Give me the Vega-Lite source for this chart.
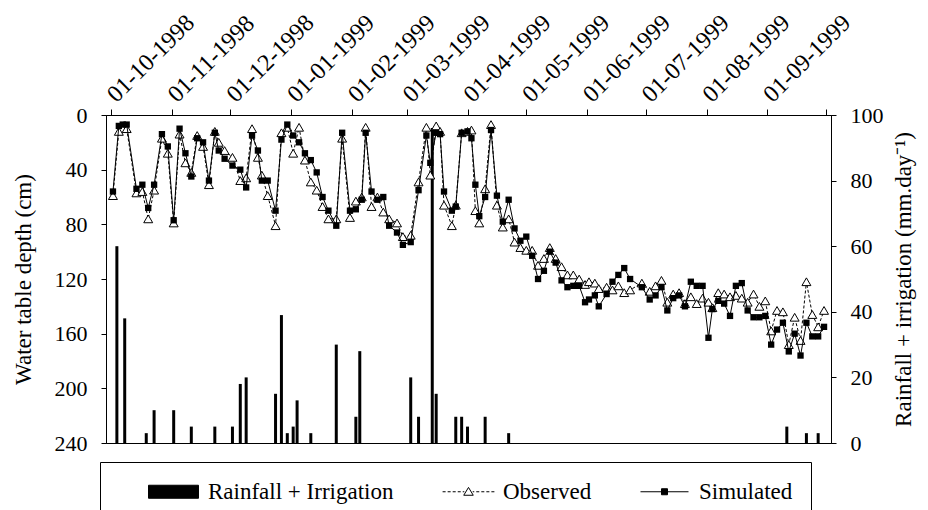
{
  "$schema": "https://vega.github.io/schema/vega-lite/v6.json",
  "width": 725,
  "height": 328,
  "autosize": {"type": "none"},
  "padding": {"left": 106, "top": 115, "right": 97, "bottom": 67},
  "background": "white",
  "config": {
    "view": {"stroke": "black", "strokeWidth": 1},
    "font": "Liberation Serif",
    "axis": {
      "labelFont": "Liberation Serif",
      "titleFont": "Liberation Serif",
      "labelColor": "black",
      "titleColor": "black",
      "domainColor": "black",
      "tickColor": "black",
      "grid": false,
      "titleFontWeight": "normal",
      "labelFontSize": 22,
      "titleFontSize": 23,
      "tickSize": 5,
      "labelPadding": 14
    },
    "legend": {"labelFont": "Liberation Serif", "titleFont": "Liberation Serif"}
  },
  "datasets": {
    "rain": [
      {"date": "1998-10-04", "rain": 60},
      {"date": "1998-10-08", "rain": 38},
      {"date": "1998-10-19", "rain": 3},
      {"date": "1998-10-23", "rain": 10},
      {"date": "1998-11-02", "rain": 10},
      {"date": "1998-11-11", "rain": 5},
      {"date": "1998-11-23", "rain": 5},
      {"date": "1998-12-02", "rain": 5},
      {"date": "1998-12-06", "rain": 18},
      {"date": "1998-12-09", "rain": 20},
      {"date": "1998-12-24", "rain": 15},
      {"date": "1998-12-27", "rain": 39},
      {"date": "1998-12-30", "rain": 3},
      {"date": "1999-01-02", "rain": 5},
      {"date": "1999-01-04", "rain": 13},
      {"date": "1999-01-11", "rain": 3},
      {"date": "1999-01-24", "rain": 30},
      {"date": "1999-02-03", "rain": 8},
      {"date": "1999-02-05", "rain": 28},
      {"date": "1999-03-03", "rain": 20},
      {"date": "1999-03-07", "rain": 8},
      {"date": "1999-03-14", "rain": 96},
      {"date": "1999-03-16", "rain": 15},
      {"date": "1999-03-26", "rain": 8},
      {"date": "1999-03-29", "rain": 8},
      {"date": "1999-04-01", "rain": 5},
      {"date": "1999-04-10", "rain": 8},
      {"date": "1999-04-22", "rain": 3},
      {"date": "1999-09-11", "rain": 5},
      {"date": "1999-09-21", "rain": 3},
      {"date": "1999-09-27", "rain": 3}
    ],
    "wt": [
      {"date": "1998-10-02", "obs": 59, "sim": 56},
      {"date": "1998-10-05", "obs": 12, "sim": 8},
      {"date": "1998-10-07", "obs": null, "sim": 7},
      {"date": "1998-10-09", "obs": 10, "sim": 7},
      {"date": "1998-10-14", "obs": 57, "sim": 54},
      {"date": "1998-10-17", "obs": 56, "sim": 51},
      {"date": "1998-10-20", "obs": 76, "sim": 68},
      {"date": "1998-10-23", "obs": 55, "sim": 51},
      {"date": "1998-10-27", "obs": 17, "sim": 14},
      {"date": "1998-10-30", "obs": 28, "sim": 23},
      {"date": "1998-11-02", "obs": 79, "sim": 77},
      {"date": "1998-11-05", "obs": 14, "sim": 10},
      {"date": "1998-11-08", "obs": 35, "sim": 28},
      {"date": "1998-11-11", "obs": 42, "sim": 45},
      {"date": "1998-11-14", "obs": 15, "sim": 17},
      {"date": "1998-11-17", "obs": 23, "sim": 20},
      {"date": "1998-11-20", "obs": 51, "sim": 48},
      {"date": "1998-11-23", "obs": 12, "sim": 13},
      {"date": "1998-11-25", "obs": 20, "sim": 26},
      {"date": "1998-11-28", "obs": 26, "sim": 32},
      {"date": "1998-12-02", "obs": 31, "sim": 37},
      {"date": "1998-12-06", "obs": 48, "sim": 40},
      {"date": "1998-12-09", "obs": 46, "sim": 53},
      {"date": "1998-12-12", "obs": 10, "sim": 15},
      {"date": "1998-12-15", "obs": 31, "sim": 26},
      {"date": "1998-12-17", "obs": 44, "sim": 48},
      {"date": "1998-12-20", "obs": 59, "sim": 48},
      {"date": "1998-12-24", "obs": 81, "sim": 70},
      {"date": "1998-12-27", "obs": 13, "sim": 18},
      {"date": "1998-12-30", "obs": 9, "sim": 7},
      {"date": "1999-01-02", "obs": 28, "sim": 15},
      {"date": "1999-01-05", "obs": 9, "sim": 20},
      {"date": "1999-01-08", "obs": 33, "sim": 28},
      {"date": "1999-01-11", "obs": 49, "sim": 33},
      {"date": "1999-01-14", "obs": 55, "sim": 42},
      {"date": "1999-01-17", "obs": 67, "sim": 60},
      {"date": "1999-01-20", "obs": 76, "sim": 70},
      {"date": "1999-01-24", "obs": 76, "sim": 81},
      {"date": "1999-01-27", "obs": 17, "sim": 13},
      {"date": "1999-01-31", "obs": 75, "sim": 70},
      {"date": "1999-02-03", "obs": 63, "sim": 69},
      {"date": "1999-02-06", "obs": 60, "sim": 62},
      {"date": "1999-02-08", "obs": 9, "sim": 13},
      {"date": "1999-02-11", "obs": 67, "sim": 56},
      {"date": "1999-02-14", "obs": 60, "sim": 62},
      {"date": "1999-02-17", "obs": 71, "sim": 60},
      {"date": "1999-02-20", "obs": 76, "sim": 81},
      {"date": "1999-02-24", "obs": 79, "sim": 86},
      {"date": "1999-02-27", "obs": 89, "sim": 95},
      {"date": "1999-03-03", "obs": 88, "sim": 93},
      {"date": "1999-03-07", "obs": 49, "sim": 55},
      {"date": "1999-03-11", "obs": 9, "sim": 15},
      {"date": "1999-03-13", "obs": 44, "sim": 35},
      {"date": "1999-03-16", "obs": 8, "sim": 13},
      {"date": "1999-03-18", "obs": 12, "sim": 14},
      {"date": "1999-03-20", "obs": 66, "sim": 56},
      {"date": "1999-03-24", "obs": 81, "sim": 70},
      {"date": "1999-03-26", "obs": 66, "sim": 67},
      {"date": "1999-03-29", "obs": 13, "sim": 13},
      {"date": "1999-04-01", "obs": 12, "sim": 12},
      {"date": "1999-04-03", "obs": 11, "sim": 17},
      {"date": "1999-04-05", "obs": 70, "sim": 51},
      {"date": "1999-04-07", "obs": 79, "sim": 74},
      {"date": "1999-04-10", "obs": 54, "sim": 60},
      {"date": "1999-04-13", "obs": 7, "sim": 11},
      {"date": "1999-04-16", "obs": 66, "sim": 59},
      {"date": "1999-04-19", "obs": 82, "sim": 78},
      {"date": "1999-04-22", "obs": 76, "sim": 62},
      {"date": "1999-04-25", "obs": 93, "sim": 83},
      {"date": "1999-04-28", "obs": 97, "sim": 92},
      {"date": "1999-05-01", "obs": 99, "sim": 89},
      {"date": "1999-05-04", "obs": 99, "sim": 103},
      {"date": "1999-05-07", "obs": 110, "sim": 120},
      {"date": "1999-05-10", "obs": 105, "sim": 114},
      {"date": "1999-05-13", "obs": 97, "sim": 100},
      {"date": "1999-05-16", "obs": 105, "sim": 108},
      {"date": "1999-05-19", "obs": 111, "sim": 121},
      {"date": "1999-05-22", "obs": 117, "sim": 126},
      {"date": "1999-05-25", "obs": 117, "sim": 125},
      {"date": "1999-05-28", "obs": 120, "sim": 125},
      {"date": "1999-05-31", "obs": 124, "sim": 137},
      {"date": "1999-06-02", "obs": 122, "sim": 135},
      {"date": "1999-06-05", "obs": 123, "sim": 132},
      {"date": "1999-06-07", "obs": 127, "sim": 140},
      {"date": "1999-06-11", "obs": 126, "sim": 131},
      {"date": "1999-06-14", "obs": 128, "sim": 122},
      {"date": "1999-06-17", "obs": 125, "sim": 117},
      {"date": "1999-06-20", "obs": 130, "sim": 112},
      {"date": "1999-06-23", "obs": 128, "sim": 120},
      {"date": "1999-06-29", "obs": 123, "sim": 126},
      {"date": "1999-07-03", "obs": 129, "sim": 135},
      {"date": "1999-07-06", "obs": 125, "sim": 132},
      {"date": "1999-07-09", "obs": 121, "sim": 126},
      {"date": "1999-07-12", "obs": 137, "sim": 143},
      {"date": "1999-07-15", "obs": 131, "sim": 134},
      {"date": "1999-07-18", "obs": 130, "sim": 132},
      {"date": "1999-07-21", "obs": 138, "sim": 140},
      {"date": "1999-07-24", "obs": 133, "sim": 122},
      {"date": "1999-07-27", "obs": 138, "sim": 125},
      {"date": "1999-07-30", "obs": 134, "sim": 125},
      {"date": "1999-08-02", "obs": 137, "sim": 163},
      {"date": "1999-08-04", "obs": 141, "sim": 142},
      {"date": "1999-08-07", "obs": 130, "sim": 136},
      {"date": "1999-08-10", "obs": 131, "sim": 138},
      {"date": "1999-08-13", "obs": 133, "sim": 147},
      {"date": "1999-08-16", "obs": 132, "sim": 125},
      {"date": "1999-08-19", "obs": 134, "sim": 123},
      {"date": "1999-08-22", "obs": 137, "sim": 143},
      {"date": "1999-08-25", "obs": 131, "sim": 148},
      {"date": "1999-08-28", "obs": 140, "sim": 148},
      {"date": "1999-08-31", "obs": 136, "sim": 147},
      {"date": "1999-09-03", "obs": 158, "sim": 168},
      {"date": "1999-09-06", "obs": 143, "sim": 157},
      {"date": "1999-09-09", "obs": 144, "sim": 152},
      {"date": "1999-09-12", "obs": 168, "sim": 173},
      {"date": "1999-09-15", "obs": 148, "sim": 160},
      {"date": "1999-09-18", "obs": 165, "sim": 176},
      {"date": "1999-09-21", "obs": 122, "sim": 152},
      {"date": "1999-09-24", "obs": 146, "sim": 162},
      {"date": "1999-09-27", "obs": 155, "sim": 162},
      {"date": "1999-09-30", "obs": 143, "sim": 155}
    ]
  },
  "layer": [
    {
      "data": {"name": "rain"},
      "mark": {"type": "bar", "size": 3, "color": "black"},
      "encoding": {
        "x": {
          "field": "date", "type": "temporal",
          "scale": {"type": "utc", "domain": [{"year": 1998, "month": 10, "date": 1, "utc": true}, {"year": 1999, "month": 10, "date": 1, "utc": true}]},
          "axis": {
            "orient": "top", "title": null, "format": "%d-%m-%Y",
            "values": [
              {"year": 1998, "month": 10, "date": 1, "utc": true},
              {"year": 1998, "month": 11, "date": 1, "utc": true},
              {"year": 1998, "month": 12, "date": 1, "utc": true},
              {"year": 1999, "month": 1, "date": 1, "utc": true},
              {"year": 1999, "month": 2, "date": 1, "utc": true},
              {"year": 1999, "month": 3, "date": 1, "utc": true},
              {"year": 1999, "month": 4, "date": 1, "utc": true},
              {"year": 1999, "month": 5, "date": 1, "utc": true},
              {"year": 1999, "month": 6, "date": 1, "utc": true},
              {"year": 1999, "month": 7, "date": 1, "utc": true},
              {"year": 1999, "month": 8, "date": 1, "utc": true},
              {"year": 1999, "month": 9, "date": 1, "utc": true},
              {"year": 1999, "month": 10, "date": 1, "utc": true}
            ],
            "labelExpr": "utcyear(datum.value) == 1999 && utcmonth(datum.value) == 9 ? '' : datum.label",
            "labelAngle": -45, "labelAlign": "left", "labelBaseline": "middle",
            "tickSize": 6, "labelPadding": 11, "labelFontSize": 24,
            "labelOverlap": false, "labelFlush": false, "labelBound": false
          }
        },
        "y": {
          "field": "rain", "type": "quantitative",
          "scale": {"domain": [0, 100], "nice": false},
          "axis": {
            "orient": "right", "title": "Rainfall + irrigation (mm.day⁻¹)",
            "values": [0, 20, 40, 60, 80, 100],
            "titleAngle": 270, "titleBaseline": "top", "titlePadding": 9
          }
        },
        "color": {
          "datum": "Rainfall + Irrigation",
          "scale": {"domain": ["Rainfall + Irrigation", "Observed", "Simulated"], "range": ["black", "black", "black"]},
          "legend": {
            "orient": "none", "legendX": -6, "legendY": 347, "direction": "horizontal",
            "title": " ", "titleOrient": "left", "titleFontSize": 8, "titlePadding": 44,
            "labelFontSize": 23, "labelColor": "black", "labelOffset": 23,
            "labelLimit": 400,
            "symbolSize": 196, "columnPadding": 46, "padding": 18,
            "strokeColor": "black", "fillColor": "white",
            "labelExpr": "datum.label == 'Simulated' ? 'Simulated\u00a0\u00a0\u00a0\u00a0' : datum.label",
            "encode": {
              "symbols": {
                "update": {
                  "shape": {"signal": "datum.value === 'Observed' ? 'M-3.7,0H-3.27M-2.98,0H-2.55M-2.26,0H-1.83M-1.54,0H-1.11M-0.82,0H-0.6M0.6,0H0.82M1.11,0H1.54M1.83,0H2.26M2.55,0H2.98M3.27,0H3.7M0,-0.62L0.68,0.5H-0.68Z' : (datum.value === 'Simulated' ? 'M-3.43,0H3.43M-0.43,-0.43H0.43V0.43H-0.43Z' : 'M-3.57,-0.93H3.57V0.93H-3.57Z')"},
                  "fill": {"signal": "datum.value === 'Observed' ? 'white' : 'black'"},
                  "fillOpacity": {"signal": "datum.value === 'Observed' ? 0 : 1"},
                  "stroke": {"value": "black"},
                  "strokeWidth": {"value": 1},
                  "strokeDash": {"value": []},
                  "opacity": {"value": 1}
                }
              }
            }
          }
        }
      }
    },
    {
      "data": {"name": "wt"},
      "encoding": {
        "x": {
          "field": "date", "type": "temporal",
          "scale": {"type": "utc", "domain": [{"year": 1998, "month": 10, "date": 1, "utc": true}, {"year": 1999, "month": 10, "date": 1, "utc": true}]},
          "axis": {
            "orient": "top", "title": null, "format": "%d-%m-%Y",
            "values": [
              {"year": 1998, "month": 10, "date": 1, "utc": true},
              {"year": 1998, "month": 11, "date": 1, "utc": true},
              {"year": 1998, "month": 12, "date": 1, "utc": true},
              {"year": 1999, "month": 1, "date": 1, "utc": true},
              {"year": 1999, "month": 2, "date": 1, "utc": true},
              {"year": 1999, "month": 3, "date": 1, "utc": true},
              {"year": 1999, "month": 4, "date": 1, "utc": true},
              {"year": 1999, "month": 5, "date": 1, "utc": true},
              {"year": 1999, "month": 6, "date": 1, "utc": true},
              {"year": 1999, "month": 7, "date": 1, "utc": true},
              {"year": 1999, "month": 8, "date": 1, "utc": true},
              {"year": 1999, "month": 9, "date": 1, "utc": true},
              {"year": 1999, "month": 10, "date": 1, "utc": true}
            ],
            "labelExpr": "utcyear(datum.value) == 1999 && utcmonth(datum.value) == 9 ? '' : datum.label",
            "labelAngle": -45, "labelAlign": "left", "labelBaseline": "middle",
            "tickSize": 6, "labelPadding": 11, "labelFontSize": 24,
            "labelOverlap": false, "labelFlush": false, "labelBound": false
          }
        }
      },
      "layer": [
        {
          "mark": {"type": "line", "strokeDash": [3, 2], "strokeWidth": 1},
          "encoding": {
            "y": {"field": "obs", "type": "quantitative",
              "scale": {"domain": [0, 240], "reverse": true, "nice": false},
              "axis": {"orient": "left", "title": "Water table depth (cm)", "values": [0, 40, 80, 120, 160, 200, 240], "titlePadding": 19}},
            "color": {"datum": "Observed", "scale": {"domain": ["Rainfall + Irrigation", "Observed", "Simulated"], "range": ["black", "black", "black"]}}
          }
        },
        {
          "mark": {"type": "point", "shape": "triangle-up", "size": 80, "filled": true, "fill": "white", "stroke": "black", "strokeWidth": 1, "opacity": 1},
          "encoding": {
            "y": {"field": "obs", "type": "quantitative",
              "scale": {"domain": [0, 240], "reverse": true, "nice": false},
              "axis": {"orient": "left", "title": "Water table depth (cm)", "values": [0, 40, 80, 120, 160, 200, 240], "titlePadding": 19}}
          }
        },
        {
          "mark": {"type": "line", "strokeWidth": 1},
          "encoding": {
            "y": {"field": "sim", "type": "quantitative",
              "scale": {"domain": [0, 240], "reverse": true, "nice": false},
              "axis": {"orient": "left", "title": "Water table depth (cm)", "values": [0, 40, 80, 120, 160, 200, 240], "titlePadding": 19}},
            "color": {"datum": "Simulated", "scale": {"domain": ["Rainfall + Irrigation", "Observed", "Simulated"], "range": ["black", "black", "black"]}}
          }
        },
        {
          "mark": {"type": "square", "size": 40, "color": "black", "opacity": 1},
          "encoding": {
            "y": {"field": "sim", "type": "quantitative",
              "scale": {"domain": [0, 240], "reverse": true, "nice": false},
              "axis": {"orient": "left", "title": "Water table depth (cm)", "values": [0, 40, 80, 120, 160, 200, 240], "titlePadding": 19}}
          }
        }
      ]
    }
  ],
  "resolve": {"scale": {"y": "independent"}}
}
